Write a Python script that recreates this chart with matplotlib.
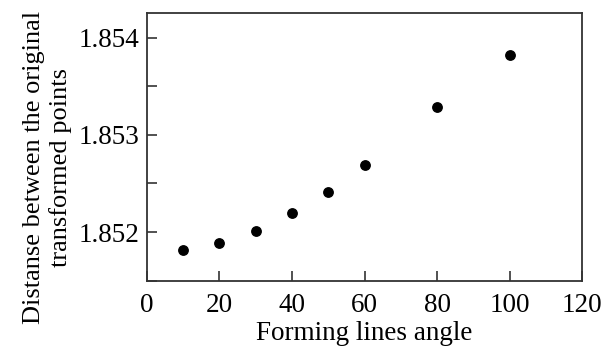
import matplotlib
matplotlib.use("Agg")
import matplotlib.pyplot as plt
from matplotlib.ticker import MultipleLocator, FormatStrFormatter

# --- Data ---
angles = [10, 20, 30, 40, 50, 60, 80, 100]
distances = [1.851815, 1.851884, 1.852010, 1.852192, 1.852412, 1.852687, 1.853287, 1.853819]

plt.rcParams['font.family'] = ['Liberation Serif', 'DejaVu Serif']
plt.rcParams['font.size'] = 19.5

fig = plt.figure(figsize=(6.02, 3.47), dpi=100)
ax = fig.add_axes([0.2437, 0.1911, 0.7236, 0.7706])

ax.scatter(angles, distances, s=46, color='black', zorder=3)

ax.set_xlim(0, 120)
ax.set_ylim(1.8515, 1.85425)
ax.xaxis.set_major_locator(MultipleLocator(20))
ax.yaxis.set_major_locator(MultipleLocator(0.001))
ax.yaxis.set_minor_locator(MultipleLocator(0.0005))
ax.yaxis.set_major_formatter(FormatStrFormatter('%.3f'))

ax.tick_params(axis='both', which='both', direction='in', length=7, width=1.2,
               color='#333333', top=False, right=False, pad=5.5)
ax.tick_params(axis='x', which='major', pad=9)
for sp in ax.spines.values():
    sp.set_color('#333333')
    sp.set_linewidth(1.3)

ax.set_xlabel("Forming lines angle", labelpad=2)
ax.set_ylabel("Distanse between the original\ntransformed points",
              fontsize=19, linespacing=1.2)
# the label sits a little below the axes centre in the reference
ax.yaxis.set_label_coords(-0.172, 0.423)

fig.savefig("out.png", dpi=100)
